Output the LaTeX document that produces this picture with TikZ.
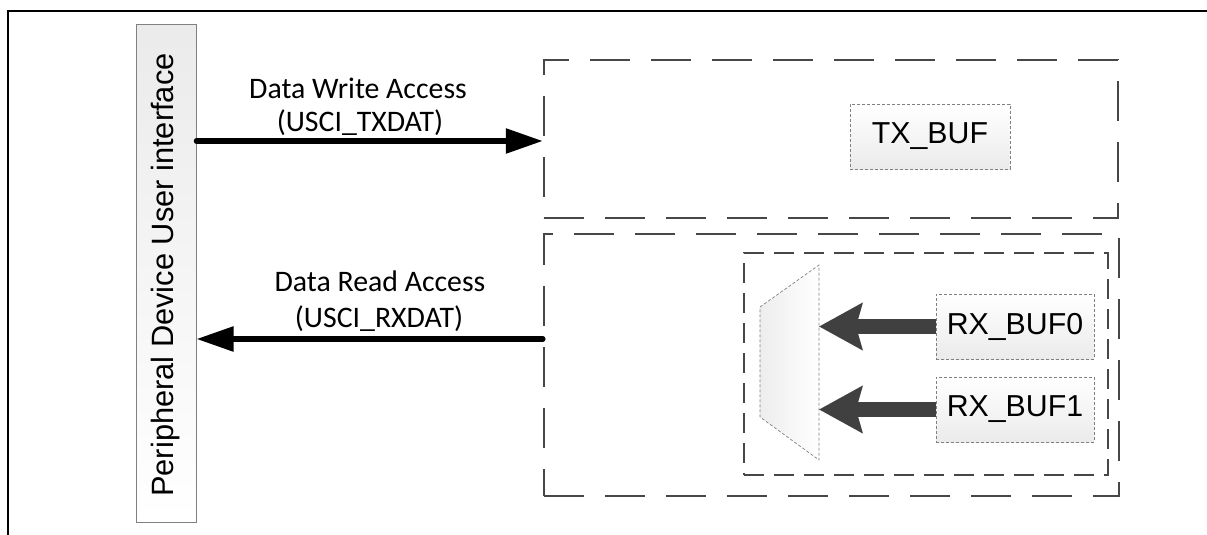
\documentclass[tikz,border=0pt]{standalone}
\usepackage{fontspec}
\setmainfont{Liberation Sans}
\newfontfamily\calib{Carlito}
\usetikzlibrary{arrows.meta,shapes.geometric}
\begin{document}
\begin{tikzpicture}[x=1pt,y=-1pt,
  frame/.style={line width=2.3pt,black},
  bigbox/.style={draw=black!72,line width=2.4pt,dash pattern=on 40pt off 21pt,inner sep=0pt},
  innerbox/.style={draw=black!72,line width=2.4pt,dash pattern=on 20pt off 10pt,inner sep=0pt},
  bufbox/.style={draw=black!50,line width=0.8pt,dash pattern=on 3pt off 2pt,top color=white,bottom color=black!8,minimum width=158pt,minimum height=65pt,inner sep=0pt,font=\fontsize{30.3}{36}\selectfont},
  pdubox/.style={draw=black!50,line width=1pt,top color=black!8,bottom color=white,minimum width=60pt,minimum height=497pt,inner sep=0pt},
  lab/.style={font=\calib\fontsize{29.8}{35}\selectfont,inner sep=0pt,anchor=base},
  busarrow/.style={line width=5.5pt,line cap=round,-{Triangle[length=37pt,width=24pt]}},
  bigarrow/.style={draw=black!75,line width=15pt,-{Stealth[length=43pt,width=46pt,inset=6pt]}},
  muxshape/.style={draw=black!50,line width=0.7pt,dash pattern=on 3pt off 2pt,left color=black!7,right color=white}
]
\useasboundingbox (0,0) rectangle (1207,535);
% outer frame
\draw[frame] (8,535) -- (8,11) -- (1207,11);
% peripheral box
\node[pdubox] (pdu) at (166,273.5) {};
\node[rotate=90,anchor=base,inner sep=0pt,font=\fontsize{30.8}{36}\selectfont] (pdutext) at (173,275) {Peripheral Device User interface};
% dashed containers
\node[bigbox,minimum width=574pt,minimum height=158pt] (txarea) at (831,139) {};
\node[bigbox,minimum width=575pt,minimum height=262pt] (rxarea) at (831.5,365) {};
\node[innerbox,minimum width=364pt,minimum height=222pt] (rxinner) at (926,364) {};
% buffers
\node[bufbox,minimum width=160pt] (txbuf) at (930,136.5) {TX\_BUF};
\node[bufbox] (rb0) at (1015,326.5) {RX\_BUF0};
\node[bufbox] (rb1) at (1015,409.5) {RX\_BUF1};
% mux
\draw[muxshape] (760,307) -- (819,265) -- (819,460) -- (760,417) -- cycle;
\coordinate (m0) at (819,326.5);
\coordinate (m1) at (819,409.5);
\draw[bigarrow] (rb0.west) -- (m0);
\draw[bigarrow] (rb1.west) -- (m1);
% bus arrows
\draw[busarrow] (pdu.east |- 0,141) -- (txarea.west |- 0,141);
\draw[busarrow] (rxarea.west |- 0,339) -- (pdu.east |- 0,339);
% labels
\node[lab] (wl1) at (358,99) {Data Write Access};
\node[lab] (wl2) at (360,131) {(USCI\_TXDAT)};
\node[lab] (rl1) at (380,291) {Data Read Access};
\node[lab] (rl2) at (379,327) {(USCI\_RXDAT)};
\end{tikzpicture}
\end{document}
